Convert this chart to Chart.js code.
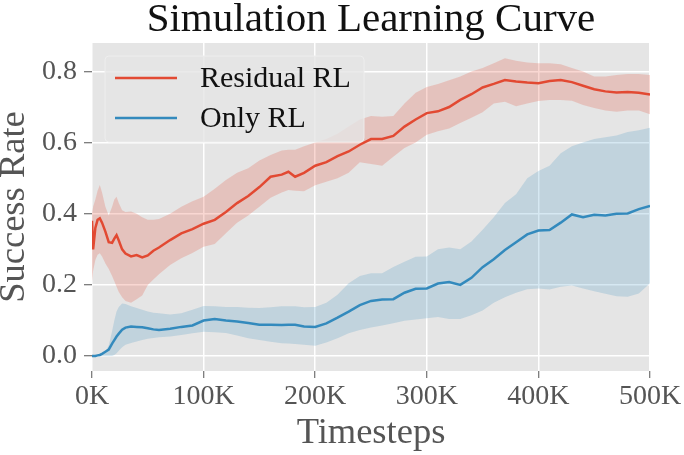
<!DOCTYPE html>
<html><head><meta charset="utf-8">
<script src="https://cdn.jsdelivr.net/npm/chart.js@4.4.1/dist/chart.umd.min.js"></script>
<style>html,body{margin:0;padding:0;background:#fff;}</style>
</head><body>
<canvas id="c" width="684" height="455"></canvas>
<script>
// Timesteps in thousands
const steps = [0,1,3,5,7,9,12,15,18,20,22,24,27,30,35,40,45,50,55,60,
  70,80,90,100,110,120,130,140,150,160,170,176,182,190,200,210,220,230,240,250,260,270,280,290,300,
  310,320,330,340,350,360,370,380,390,400,410,420,430,440,450,460,470,480,490,500];

const residualMean = [0.38,0.30,0.36,0.383,0.387,0.375,0.35,0.32,0.318,0.33,0.34,0.325,0.30,0.288,0.28,0.284,0.277,0.283,0.296,0.305,
  0.326,0.345,0.357,0.372,0.383,0.405,0.43,0.45,0.475,0.504,0.51,0.518,0.504,0.515,0.535,0.545,0.562,0.575,0.594,0.61,0.61,0.619,0.645,0.665,0.683,
  0.688,0.70,0.72,0.736,0.755,0.765,0.776,0.772,0.769,0.767,0.773,0.776,0.77,0.76,0.75,0.744,0.741,0.742,0.74,0.735];
const residualLow = [0.21,0.24,0.27,0.285,0.289,0.28,0.26,0.245,0.225,0.21,0.195,0.18,0.165,0.155,0.15,0.16,0.17,0.2,0.215,0.23,
  0.256,0.275,0.29,0.307,0.315,0.345,0.375,0.395,0.42,0.445,0.46,0.467,0.465,0.463,0.48,0.49,0.5,0.515,0.545,0.54,0.535,0.56,0.585,0.6,0.622,
  0.632,0.64,0.655,0.67,0.685,0.71,0.715,0.702,0.71,0.717,0.72,0.72,0.718,0.706,0.697,0.69,0.687,0.69,0.69,0.68];
const residualHigh = [0.40,0.42,0.44,0.465,0.481,0.46,0.42,0.395,0.42,0.44,0.448,0.43,0.41,0.405,0.406,0.40,0.39,0.383,0.383,0.385,
  0.40,0.42,0.435,0.448,0.47,0.495,0.515,0.528,0.55,0.565,0.578,0.58,0.58,0.59,0.60,0.61,0.625,0.645,0.665,0.675,0.673,0.675,0.71,0.74,0.756,
  0.765,0.775,0.786,0.80,0.81,0.823,0.837,0.83,0.825,0.823,0.823,0.82,0.81,0.80,0.786,0.786,0.79,0.793,0.793,0.79];

const onlyMean = [0,0,0,0.002,0.003,0.006,0.012,0.018,0.035,0.045,0.055,0.063,0.074,0.08,0.083,0.082,0.081,0.078,0.075,0.073,
  0.077,0.082,0.086,0.1,0.104,0.1,0.097,0.093,0.088,0.088,0.087,0.088,0.088,0.083,0.082,0.092,0.108,0.125,0.143,0.155,0.159,0.16,0.178,0.189,0.19,
  0.204,0.208,0.2,0.22,0.25,0.272,0.298,0.32,0.342,0.353,0.354,0.375,0.398,0.39,0.397,0.395,0.40,0.401,0.413,0.422];
const onlyLow = [0,0,0,0,0,0,0,0,0,0.003,0.008,0.015,0.025,0.032,0.037,0.041,0.045,0.049,0.051,0.053,
  0.055,0.059,0.064,0.068,0.067,0.065,0.058,0.05,0.045,0.04,0.036,0.035,0.034,0.032,0.029,0.038,0.05,0.064,0.073,0.08,0.086,0.092,0.099,0.103,0.106,
  0.11,0.104,0.104,0.115,0.128,0.15,0.165,0.178,0.188,0.19,0.187,0.195,0.198,0.19,0.182,0.175,0.168,0.167,0.176,0.205];
const onlyHigh = [0.003,0.003,0.003,0.003,0.003,0.005,0.012,0.03,0.07,0.1,0.125,0.138,0.148,0.146,0.14,0.135,0.13,0.125,0.122,0.12,
  0.117,0.12,0.13,0.141,0.14,0.138,0.138,0.136,0.135,0.137,0.14,0.14,0.14,0.137,0.138,0.15,0.172,0.205,0.225,0.233,0.233,0.25,0.265,0.279,0.28,
  0.30,0.305,0.30,0.322,0.355,0.39,0.43,0.455,0.50,0.52,0.535,0.57,0.59,0.60,0.61,0.615,0.62,0.63,0.635,0.642];

const seriesNames = ['Residual RL', 'Only RL'];
const xTicks = [0,100,200,300,400,500];
const xTickLabels = ['0K','100K','200K','300K','400K','500K'];
const yTicks = [0,0.2,0.4,0.6,0.8];
const yTickLabels = ['0.0','0.2','0.4','0.6','0.8'];
const chartTitle = 'Simulation Learning Curve';
const xTitle = 'Timesteps';
const yTitle = 'Success Rate';

const RED = '#E24A33', BLUE = '#348ABD';
const SERIF = '"Liberation Serif", "DejaVu Serif", serif';
const pts = arr => steps.map((s, i) => ({x: s, y: arr[i]}));

const band = (arr, color, fill) => ({
  data: pts(arr), borderWidth: 0, pointRadius: 0, fill: fill,
  backgroundColor: color, borderColor: 'rgba(0,0,0,0)'
});

const bgPlugin = {
  id: 'panel',
  beforeDraw(chart) {
    const {ctx, chartArea: a} = chart;
    ctx.save();
    ctx.fillStyle = '#E5E5E5';
    ctx.fillRect(a.left, a.top, a.right - a.left, a.bottom - a.top);
    ctx.restore();
  },
  afterDraw(chart) {
    const {ctx, chartArea: a} = chart;
    ctx.save();
    // title
    ctx.fillStyle = '#111';
    ctx.font = '41px ' + SERIF;
    ctx.textAlign = 'center';
    ctx.textBaseline = 'alphabetic';
    ctx.fillText(chartTitle, (a.left + a.right) / 2, 31);
    // legend
    const lx = a.left + 13, ly = a.top + 13, lw = 259, lh = 86, r = 4;
    ctx.beginPath();
    ctx.moveTo(lx + r, ly);
    ctx.arcTo(lx + lw, ly, lx + lw, ly + lh, r);
    ctx.arcTo(lx + lw, ly + lh, lx, ly + lh, r);
    ctx.arcTo(lx, ly + lh, lx, ly, r);
    ctx.arcTo(lx, ly, lx + lw, ly, r);
    ctx.closePath();
    ctx.fillStyle = 'rgba(229,229,229,0.8)';
    ctx.fill();
    ctx.strokeStyle = 'rgba(238,238,238,0.9)';
    ctx.lineWidth = 1;
    ctx.stroke();
    const colors = [RED, BLUE];
    ctx.font = '30px ' + SERIF;
    ctx.textAlign = 'left';
    ctx.textBaseline = 'middle';
    seriesNames.forEach((name, i) => {
      const y = ly + 22 + i * 40;
      ctx.strokeStyle = colors[i];
      ctx.lineWidth = 2.5;
      ctx.beginPath();
      ctx.moveTo(lx + 10, y);
      ctx.lineTo(lx + 72, y);
      ctx.stroke();
      ctx.fillStyle = '#111';
      ctx.fillText(name, lx + 95, y + 1);
    });
    ctx.restore();
  }
};

new Chart(document.getElementById('c'), {
  type: 'line',
  data: {
    datasets: [
      band(residualHigh, 'rgba(226,74,51,0.22)', '+1'),
      band(residualLow, 'rgba(226,74,51,0.22)', false),
      band(onlyHigh, 'rgba(52,138,189,0.2)', '+1'),
      band(onlyLow, 'rgba(52,138,189,0.2)', false),
      {label: seriesNames[0], data: pts(residualMean), borderColor: RED, borderWidth: 2.5, pointRadius: 0, fill: false, tension: 0},
      {label: seriesNames[1], data: pts(onlyMean), borderColor: BLUE, borderWidth: 2.5, pointRadius: 0, fill: false, tension: 0}
    ]
  },
  options: {
    responsive: false,
    animation: false,
    devicePixelRatio: 1,
    layout: {padding: {top: 43, right: 34, bottom: 0, left: 0}},
    plugins: {legend: {display: false}, tooltip: {enabled: false}, title: {display: false}},
    scales: {
      x: {
        type: 'linear', min: 0, max: 500,
        afterBuildTicks: ax => { ax.ticks = xTicks.map(v => ({value: v})); },
        afterFit: s => { s.height = 84; },
        ticks: {callback: (v, i) => xTickLabels[i], color: '#555', font: {family: SERIF, size: 28}, padding: 2, maxRotation: 0, autoSkip: false},
        grid: {color: '#FFFFFF', lineWidth: 1.5, tickColor: '#555', tickWidth: 1, tickLength: 7},
        border: {display: false},
        title: {display: true, text: xTitle, color: '#555', font: {family: SERIF, size: 36.5, lineHeight: 1.2}, padding: {top: 0, bottom: 0}}
      },
      y: {
        min: -0.042, max: 0.88,
        afterBuildTicks: ax => { ax.ticks = yTicks.map(v => ({value: v})); },
        afterFit: s => { s.width = 92; },
        ticks: {callback: (v, i) => yTickLabels[i], color: '#555', font: {family: SERIF, size: 28}, padding: 7},
        grid: {color: '#FFFFFF', lineWidth: 1.5, tickColor: '#555', tickWidth: 1, tickLength: 8},
        border: {display: false},
        title: {display: true, text: yTitle, color: '#555', font: {family: SERIF, size: 36.5, lineHeight: 0.78}, padding: 0}
      }
    }
  },
  plugins: [bgPlugin]
});
</script>
</body></html>
